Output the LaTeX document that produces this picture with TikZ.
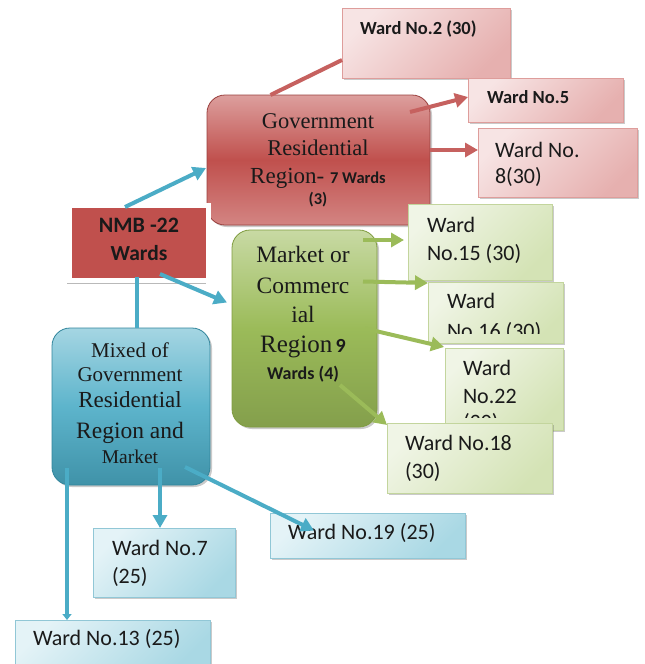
\documentclass[tikz,border=0pt]{standalone}
\usepackage{fontspec}
\setmainfont{Liberation Serif}
\newfontfamily\calib{Carlito}
\usetikzlibrary{arrows.meta,shadows,calc}
\definecolor{txtc}{HTML}{1A1A1A}
\definecolor{redA}{HTML}{C0504D}
\definecolor{redL}{HTML}{E6B0AF}
\definecolor{redP}{HTML}{F7E4E4}
\definecolor{grnA}{HTML}{9BBB59}
\definecolor{grnD}{HTML}{7F9C3F}
\definecolor{grnL}{HTML}{D4E3B5}
\definecolor{grnP}{HTML}{F0F5E6}
\definecolor{bluA}{HTML}{4BACC6}
\definecolor{bluD}{HTML}{31859C}
\definecolor{bluL}{HTML}{A9D8E4}
\definecolor{bluP}{HTML}{E4F3F7}
\tikzset{
  boxbase/.style={rectangle, inner sep=0pt, outer sep=0pt},
  shad/.style={drop shadow={shadow xshift=2pt, shadow yshift=-2pt, opacity=.35, fill=black!60}},
  wardred/.style={boxbase, shad, draw=redL!80!redA, line width=0.6pt, top color=redL, bottom color=redP, shading angle=-135},
  wardgrn/.style={boxbase, shad, draw=grnL!80!grnD, line width=0.6pt, top color=grnL, bottom color=grnP, shading angle=-135},
  wardblu/.style={boxbase, shad, draw=bluL!80!bluD, line width=0.6pt, top color=bluL, bottom color=bluP, shading angle=-135},
  govbox/.style={boxbase, rounded corners=18pt, draw=redA!80!black, line width=0.8pt, shad, top color=redA!55!white, bottom color=redA!70!white, middle color=redA},
  mktbox/.style={boxbase, rounded corners=18pt, draw=grnD, line width=0.8pt, shad, top color=grnA!55!white, bottom color=grnA!85!black, middle color=grnA},
  mixbox/.style={boxbase, rounded corners=18pt, draw=bluD, line width=0.8pt, shad, top color=bluA!50!white, bottom color=bluA!85!black, middle color=bluA!90!white},
  nmbbox/.style={boxbase, fill=redA, draw=white, line width=5pt, drop shadow={shadow xshift=-3pt, shadow yshift=-4pt, opacity=.5, fill=black!55}},
  txt/.style={inner sep=0pt, outer sep=0pt, text=txtc},
  wtxt/.style={txt, anchor=base west, font=\calib\fontsize{22}{22}\selectfont},
  ctxt/.style={txt, anchor=base},
  conB/.style={draw=bluA, line width=4pt},
  conR/.style={draw=redA!90!white, line width=4pt},
  conG/.style={draw=grnA, line width=4pt},
  tip/.style={-{Triangle[length=13pt,width=14pt]}},
}
\begin{document}
\begin{tikzpicture}[x=1pt,y=-1pt]
\useasboundingbox (0,0) rectangle (645,664);
% top red wards
\node[wardred, minimum width=168pt, minimum height=70pt] (w2) at (426,43) {};
\node[wardred, minimum width=155pt, minimum height=44pt] (w5) at (545.5,100) {};
\node[wardred, minimum width=159pt, minimum height=69pt] (w8) at (557.5,162.5) {};
% gov region
\node[govbox, minimum width=223pt, minimum height=130pt] (gov) at (318.5,160) {};
% NMB
\node[nmbbox, minimum width=139pt, minimum height=75pt] (nmb) at (139,242.5) {};
% market
\node[mktbox, minimum width=145pt, minimum height=197pt] (mkt) at (304.5,328.5) {};
\node[wardgrn, minimum width=144pt, minimum height=76pt] (w15) at (480,242) {};
\node[wardgrn, minimum width=135pt, minimum height=61pt] (w16) at (495.5,312.5) {};
\node[wardgrn, minimum width=118pt, minimum height=82pt] (w22) at (504,389) {};
\begin{scope}
\clip (w16.north west) rectangle ([yshift=10pt]w16.south east);
\node[wtxt] (t16a) at (447,308) {Ward};
\node[wtxt] (t16b) at (447,338) {No.16 (30)};
\end{scope}
\begin{scope}
\clip (w22.north west) rectangle ([yshift=13pt]w22.south east);
\node[wtxt] (t22a) at (463,375) {Ward};
\node[wtxt] (t22b) at (463,403) {No.22};
\node[wtxt] (t22c) at (463,429) {(30)};
\end{scope}
\node[wardgrn, minimum width=165pt, minimum height=70pt] (w18) at (469.5,458) {};
% mixed
\node[mixbox, minimum width=158pt, minimum height=157pt] (mix) at (131,406.5) {};
\node[wardblu, minimum width=142pt, minimum height=69pt] (w7) at (164,562.5) {};
\node[wardblu, minimum width=195pt, minimum height=45pt] (w19) at (367.5,535.5) {};
\node[wardblu, minimum width=195pt, minimum height=50pt] (w13) at (112.5,645) {};
% texts
\node[wtxt, font=\calib\bfseries\fontsize{18.5}{18.5}\selectfont] (t2) at (360,34) {Ward No.2 (30)};
\node[wtxt, font=\calib\bfseries\fontsize{18.5}{18.5}\selectfont] (t5) at (487,103) {Ward No.5};
\node[wtxt] (t8a) at (495,157) {Ward No.};
\node[wtxt] (t8b) at (495,183) {8(30)};
\node[ctxt, font=\fontsize{22.5}{22.5}\selectfont] (g1) at (318,128) {Government};
\node[ctxt, font=\fontsize{22.5}{22.5}\selectfont] (g2) at (318,155) {Residential};
\node[ctxt] (g3) at (318,183) {\fontsize{23}{23}\selectfont Region- {\calib\bfseries\fontsize{16.5}{16.5}\selectfont 7 Wards}};
\node[ctxt, font=\calib\bfseries\fontsize{16.5}{16.5}\selectfont] (g4) at (318,204) {(3)};
\node[ctxt, font=\calib\bfseries\fontsize{22}{22}\selectfont] (n1) at (139,232) {NMB -22};
\node[ctxt, font=\calib\bfseries\fontsize{21.5}{21.5}\selectfont] (n2) at (139,260) {Wards};
\node[ctxt, font=\fontsize{23.5}{23.5}\selectfont] (m1) at (303,262) {Market or};
\node[ctxt, font=\fontsize{23.5}{23.5}\selectfont] (m2) at (303,293) {Commerc};
\node[ctxt, font=\fontsize{23.5}{23.5}\selectfont] (m3) at (303,322) {ial};
\node[ctxt] (m4) at (303,352) {\fontsize{25}{25}\selectfont Region{\calib\bfseries\fontsize{20}{20}\selectfont\,9}};
\node[ctxt, font=\calib\bfseries\fontsize{18}{18}\selectfont] (m5) at (303,379) {Wards (4)};
\node[wtxt] (t15a) at (427,232) {Ward};
\node[wtxt] (t15b) at (427,260) {No.15 (30)};
\node[wtxt] (t18a) at (405,450) {Ward No.18};
\node[wtxt] (t18b) at (405,478) {(30)};
\node[ctxt, font=\fontsize{21}{21}\selectfont] (x1) at (130,357) {Mixed of};
\node[ctxt, font=\fontsize{21}{21}\selectfont] (x2) at (130,381) {Government};
\node[ctxt, font=\fontsize{23}{23}\selectfont] (x3) at (130,407) {Residential};
\node[ctxt, font=\fontsize{23.5}{23.5}\selectfont] (x4) at (130,438) {Region and};
\node[ctxt, font=\fontsize{19.5}{19.5}\selectfont] (x5) at (130,463) {Market};
\node[wtxt] (t7a) at (112,555) {Ward No.7};
\node[wtxt] (t7b) at (112,583) {(25)};
\node[wtxt] (t19) at (288,539) {Ward No.19 (25)};
\node[wtxt] (t13) at (33,645) {Ward No.13 (25)};
% connector ends
\coordinate (c13) at ([shift={(15pt,17pt)}]mix.south west);
\coordinate (c7) at ([shift={(29pt,17pt)}]mix.south);
\coordinate (cn) at ([xshift=-2pt,yshift=3pt]nmb.south);
% connectors
\draw[conB, tip] ([xshift=-14pt,yshift=-2pt]nmb.north) -- ([shift={(-1pt,-8pt)}]gov.west);
\draw[conB, tip] ([shift={(21pt,6pt)}]nmb.south) -- ([shift={(-5pt,26pt)}]mkt.west);
\draw[conB] (cn) -- (cn |- mix.north);
\draw[conR] ([xshift=-48pt]gov.north) -- ([yshift=-17pt]w2.west);
\draw[conR, tip] ([shift={(-20pt,-17pt)}]gov.north east) -- ([yshift=3pt]w5.west);
\draw[conR, tip] ([yshift=10pt]gov.east) -- ([yshift=12.5pt]w8.west);
\draw[conG, tip] ([shift={(-14pt,-10pt)}]mkt.north east) -- ([shift={(-4pt,2pt)}]w15.west);
\draw[conG, tip] ([shift={(-14pt,47pt)}]mkt.east) -- ([yshift=-1pt]w16.north west);
\draw[conG, tip] ([xshift=-12pt]mkt.east) -- ([shift={(-1pt,1pt)}]w22.north west);
\draw[conG, tip] ([shift={(-37pt,42pt)}]mkt.south east) -- ([yshift=-2pt]w18.north west);
\draw[conB, -{Triangle[length=6pt,width=9pt]}] (c13) -- (c13 |- w13.north);
\draw[conB, tip] (c7) -- (c7 |- w7.north);
\draw[conB, tip] ([shift={(-25pt,18pt)}]mix.south east) -- ([shift={(44pt,5pt)}]w19.west);
\end{tikzpicture}
\end{document}
